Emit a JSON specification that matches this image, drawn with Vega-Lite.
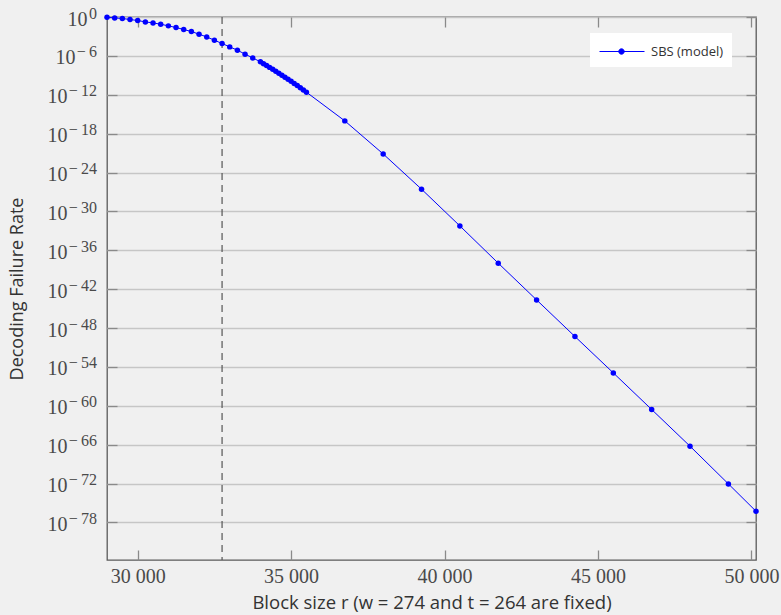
{
  "$schema": "https://vega.github.io/schema/vega-lite/v6.json",
  "width": 649,
  "height": 543,
  "autosize": {"type": "none"},
  "padding": {"left": 107, "top": 17, "right": 25, "bottom": 55},
  "background": "#f0f0f0",
  "config": {
    "view": {"stroke": "#5a5a5a", "strokeWidth": 1.3},
    "axis": {
      "labelFont": "Liberation Serif",
      "labelFontSize": 20,
      "labelColor": "#4a4a4a",
      "titleFont": "Open Sans",
      "titleFontSize": 18,
      "titleFontWeight": "normal",
      "titleColor": "#333333",
      "domain": false,
      "tickColor": "#8a8a8a",
      "tickWidth": 1.3,
      "gridColor": "#c6c6c6",
      "gridWidth": 1.3
    }
  },
  "datasets": {
    "dfr": [
      {"r": 29000, "dfr": 0.891, "series": "SBS (model)"},
      {"r": 29250, "dfr": 0.724, "series": "SBS (model)"},
      {"r": 29500, "dfr": 0.589, "series": "SBS (model)"},
      {"r": 29750, "dfr": 0.407, "series": "SBS (model)"},
      {"r": 30000, "dfr": 0.288, "series": "SBS (model)"},
      {"r": 30250, "dfr": 0.174, "series": "SBS (model)"},
      {"r": 30500, "dfr": 0.123, "series": "SBS (model)"},
      {"r": 30750, "dfr": 0.0776, "series": "SBS (model)"},
      {"r": 31000, "dfr": 0.0427, "series": "SBS (model)"},
      {"r": 31250, "dfr": 0.024, "series": "SBS (model)"},
      {"r": 31500, "dfr": 0.01175, "series": "SBS (model)"},
      {"r": 31750, "dfr": 0.00575, "series": "SBS (model)"},
      {"r": 32000, "dfr": 0.00224, "series": "SBS (model)"},
      {"r": 32250, "dfr": 8.32e-4, "series": "SBS (model)"},
      {"r": 32500, "dfr": 2.63e-4, "series": "SBS (model)"},
      {"r": 32750, "dfr": 8.13e-5, "series": "SBS (model)"},
      {"r": 33000, "dfr": 2.45e-5, "series": "SBS (model)"},
      {"r": 33250, "dfr": 7.59e-6, "series": "SBS (model)"},
      {"r": 33500, "dfr": 1.82e-6, "series": "SBS (model)"},
      {"r": 33750, "dfr": 4.9e-7, "series": "SBS (model)"},
      {"r": 34000, "dfr": 1.2e-7, "series": "SBS (model)"},
      {"r": 34100, "dfr": 6.31e-8, "series": "SBS (model)"},
      {"r": 34200, "dfr": 3.27e-8, "series": "SBS (model)"},
      {"r": 34300, "dfr": 1.68e-8, "series": "SBS (model)"},
      {"r": 34400, "dfr": 8.51e-9, "series": "SBS (model)"},
      {"r": 34500, "dfr": 4.27e-9, "series": "SBS (model)"},
      {"r": 34600, "dfr": 2.11e-9, "series": "SBS (model)"},
      {"r": 34700, "dfr": 1.035e-9, "series": "SBS (model)"},
      {"r": 34800, "dfr": 5.07e-10, "series": "SBS (model)"},
      {"r": 34900, "dfr": 2.45e-10, "series": "SBS (model)"},
      {"r": 35000, "dfr": 1.175e-10, "series": "SBS (model)"},
      {"r": 35100, "dfr": 5.56e-11, "series": "SBS (model)"},
      {"r": 35200, "dfr": 2.6e-11, "series": "SBS (model)"},
      {"r": 35300, "dfr": 1.2e-11, "series": "SBS (model)"},
      {"r": 35400, "dfr": 5.5e-12, "series": "SBS (model)"},
      {"r": 35500, "dfr": 2.48e-12, "series": "SBS (model)"},
      {"r": 36750, "dfr": 9.33e-17, "series": "SBS (model)"},
      {"r": 38000, "dfr": 7.41e-22, "series": "SBS (model)"},
      {"r": 39250, "dfr": 2.69e-27, "series": "SBS (model)"},
      {"r": 40500, "dfr": 5.75e-33, "series": "SBS (model)"},
      {"r": 41750, "dfr": 1.02e-38, "series": "SBS (model)"},
      {"r": 43000, "dfr": 2.19e-44, "series": "SBS (model)"},
      {"r": 44250, "dfr": 4.9e-50, "series": "SBS (model)"},
      {"r": 45500, "dfr": 1.2e-55, "series": "SBS (model)"},
      {"r": 46750, "dfr": 2.69e-61, "series": "SBS (model)"},
      {"r": 48000, "dfr": 5.89e-67, "series": "SBS (model)"},
      {"r": 49250, "dfr": 8.91e-73, "series": "SBS (model)"},
      {"r": 50150, "dfr": 5.37e-77, "series": "SBS (model)"}
    ],
    "marker": [{"r": 32750}]
  },
  "layer": [
    {
      "data": {"name": "marker"},
      "mark": {"type": "rule", "color": "#555555", "strokeWidth": 1.2, "strokeDash": [7, 5]},
      "encoding": {
        "x": {
          "field": "r", "type": "quantitative",
          "scale": {"domain": [29000, 50150], "nice": false, "zero": false},
          "axis": {"orient": "top", "values": [30000, 35000, 40000, 45000, 50000], "labels": false, "tickSize": -10, "grid": false, "title": null, "offset": 0}
        }
      }
    },
    {
      "data": {"name": "dfr"},
      "mark": {"type": "point", "opacity": 0},
      "encoding": {
        "x": {"field": "r", "type": "quantitative", "axis": null},
        "y": {
          "field": "dfr", "type": "quantitative",
          "scale": {"type": "log", "domain": [1.6e-84, 1], "nice": false},
          "axis": {"orient": "right", "values": [1, 1e-6, 1e-12, 1e-18, 1e-24, 1e-30, 1e-36, 1e-42, 1e-48, 1e-54, 1e-60, 1e-66, 1e-72, 1e-78], "labels": false, "tickSize": -10, "grid": false, "title": null, "offset": 0}
        }
      }
    },
    {
      "data": {"name": "dfr"},
      "mark": {"type": "point", "opacity": 0},
      "encoding": {
        "x": {"field": "r", "type": "quantitative", "axis": null},
        "y": {
          "field": "dfr", "type": "quantitative",
          "axis": {
            "orient": "left",
            "offset": 0,
            "values": [1, 1e-6, 1e-12, 1e-18, 1e-24, 1e-30, 1e-36, 1e-42, 1e-48, 1e-54, 1e-60, 1e-66, 1e-72, 1e-78],
            "labelExpr": "['0','−\u20096','−\u200912','−\u200918','−\u200924','−\u200930','−\u200936','−\u200942','−\u200948','−\u200954','−\u200960','−\u200966','−\u200972','−\u200978'][round(-log(datum.value)/LN10/6)]",
            "labelFontSize": 16,
            "labelOffset": -4,
            "labelPadding": 20.5,
            "tickSize": -10,
            "tickOpacity": 0,
            "grid": false,
            "title": null
          }
        }
      }
    },
    {
      "data": {"name": "dfr"},
      "mark": {"type": "line", "strokeWidth": 1, "point": {"filled": true, "size": 30}},
      "encoding": {
        "x": {
          "field": "r", "type": "quantitative",
          "axis": {
            "orient": "bottom",
            "offset": 0,
            "values": [30000, 35000, 40000, 45000, 50000],
            "labelExpr": "replace(format(datum.value, ','), ',', ' ')",
            "tickSize": -10,
            "labelPadding": 16,
            "grid": false,
            "title": "Block size r (w = 274 and t = 264 are fixed)",
            "titleFontSize": 18.5,
            "titlePadding": 7
          }
        },
        "y": {
          "field": "dfr", "type": "quantitative",
          "axis": {
            "orient": "left",
            "offset": 0,
            "values": [1, 1e-6, 1e-12, 1e-18, 1e-24, 1e-30, 1e-36, 1e-42, 1e-48, 1e-54, 1e-60, 1e-66, 1e-72, 1e-78],
            "labelExpr": "'10'",
            "labelOffset": 2,
            "labelPadding": {"condition": [{"test": "datum.value == 1", "value": 30}, {"test": "datum.value == 1e-6", "value": 42}], "value": 50},
            "tickSize": -10,
            "grid": true,
            "title": "Decoding Failure Rate",
            "titlePadding": 21
          }
        },
        "color": {
          "field": "series", "type": "nominal",
          "scale": {"range": ["#0000ff"]},
          "legend": {
            "title": null,
            "orient": "none",
            "legendX": 483,
            "legendY": 16,
            "fillColor": "#ffffff",
            "padding": 8,
            "symbolType": "M-0.9,0L3.6,0M1.03,0A0.27,0.27,0,1,1,1.57,0A0.27,0.27,0,1,1,1.03,0Z",
            "symbolSize": 400,
            "symbolFillColor": "#0000ff",
            "symbolStrokeColor": "#0000ff",
            "symbolStrokeWidth": 1,
            "labelFont": "Open Sans",
            "labelFontSize": 13,
            "labelColor": "#333333",
            "labelOffset": 32
          }
        }
      }
    }
  ],
  "resolve": {"axis": {"x": "independent", "y": "independent"}}
}
